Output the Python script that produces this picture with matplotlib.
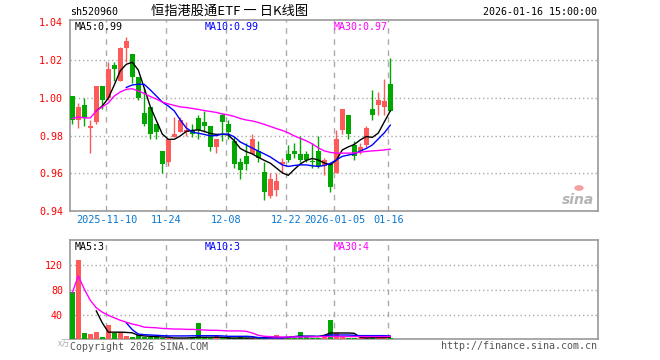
import numpy as np
import matplotlib
matplotlib.use("Agg")
import matplotlib.pyplot as plt

plt.rcParams['font.family'] = ['DejaVu Sans Mono', 'Noto Sans CJK SC']

# 日K数据 (2025-10-31 ~ 2026-01-16)
opens = [1.001, 0.988, 0.996, 0.984, 0.987, 1.006, 1.000, 1.017, 1.009, 1.026,
         1.023, 1.011, 0.992, 0.995, 0.986, 0.972, 0.966, 0.979, 0.982, 0.982,
         0.983, 0.989, 0.987, 0.985, 0.974, 0.991, 0.986, 0.977, 0.966, 0.969,
         0.970, 0.972, 0.961, 0.948, 0.951, 0.965, 0.970, 0.972, 0.970, 0.970,
         0.9665, 0.972, 0.964, 0.965, 0.960, 0.983, 0.991, 0.975, 0.972, 0.975,
         0.994, 0.996, 0.995, 1.007]
closes = [0.988, 0.995, 0.989, 0.985, 1.006, 0.999, 1.015, 1.015, 1.026, 1.030,
          1.011, 1.000, 0.986, 0.981, 0.982, 0.965, 0.978, 0.981, 0.988, 0.983,
          0.981, 0.983, 0.985, 0.974, 0.978, 0.987, 0.982, 0.965, 0.962, 0.965,
          0.978, 0.968, 0.950, 0.957, 0.956, 0.966, 0.967, 0.970, 0.967, 0.967,
          0.966, 0.964, 0.967, 0.953, 0.978, 0.994, 0.981, 0.969, 0.974, 0.984,
          0.991, 0.999, 0.998, 0.993]
highs = [1.001, 0.997, 1.000, 0.988, 1.006, 1.006, 1.019, 1.019, 1.027, 1.032,
         1.023, 1.011, 1.005, 0.995, 0.986, 0.972, 0.978, 0.990, 0.990, 0.987,
         0.986, 0.991, 0.993, 0.985, 0.978, 0.992, 0.988, 0.979, 0.968, 0.976,
         0.981, 0.977, 0.966, 0.960, 0.960, 0.968, 0.975, 0.976, 0.980, 0.972,
         0.976, 0.980, 0.968, 0.965, 0.983, 0.994, 0.991, 0.977, 0.976, 0.985,
         1.004, 1.003, 1.010, 1.021]
lows = [0.986, 0.984, 0.985, 0.971, 0.986, 0.994, 0.999, 1.009, 1.009, 1.019,
        1.008, 0.999, 0.985, 0.978, 0.978, 0.960, 0.964, 0.979, 0.982, 0.980,
        0.979, 0.978, 0.982, 0.972, 0.971, 0.977, 0.978, 0.963, 0.957, 0.962,
        0.970, 0.966, 0.946, 0.947, 0.948, 0.960, 0.966, 0.968, 0.966, 0.966,
        0.963, 0.963, 0.959, 0.950, 0.960, 0.981, 0.978, 0.967, 0.970, 0.974,
        0.988, 0.991, 0.991, 0.993]

nan = np.nan
ma5 = [nan, nan, nan, nan, 0.993, 0.9956, 0.9997, 1.0067, 1.0142, 1.0176,
       1.0187, 1.0146, 1.005, 0.9953, 0.988, 0.9808, 0.978, 0.978, 0.9798, 0.9822,
       0.9827, 0.983, 0.9822, 0.9811, 0.9806, 0.9807, 0.9803, 0.9772, 0.9732, 0.9715,
       0.9703, 0.9685, 0.9669, 0.9654, 0.9629, 0.9603, 0.959, 0.9621, 0.965, 0.9669,
       0.9679, 0.9671, 0.9655, 0.9645, 0.967, 0.9724, 0.974, 0.9753, 0.9777, 0.9795,
       0.979, 0.9813, 0.9872, 0.993]
ma10 = [nan] * 9 + [
       1.0054, 1.0067, 1.0071, 1.007, 1.0041, 1.0009, 0.9977, 0.9956, 0.993, 0.9882,
       0.984, 0.9819, 0.9812, 0.9806, 0.9798, 0.980, 0.9807, 0.9808, 0.9793, 0.9766,
       0.975, 0.9734, 0.9718, 0.9703, 0.9687, 0.9666, 0.9645, 0.9637, 0.9642, 0.9645,
       0.9645, 0.964, 0.9637, 0.9642, 0.9653, 0.9671, 0.969, 0.9697, 0.9703, 0.9718,
       0.9732, 0.975, 0.9782, 0.9814, 0.9855]
ma30 = [0.989, 0.9898, 0.9893, 0.9893, 0.993, 0.9951, 0.9972, 1.0009, 1.003, 1.0044,
        1.0047, 1.0035, 1.0022, 1.0006, 0.9993, 0.9977, 0.9967, 0.9959, 0.9951, 0.9948,
        0.9943, 0.9938, 0.9932, 0.9927, 0.9922, 0.9914, 0.9909, 0.9901, 0.989, 0.9882,
        0.9877, 0.9869, 0.9859, 0.9848, 0.9837, 0.9827, 0.9814, 0.9798, 0.9785, 0.9772,
        0.9756, 0.9735, 0.9719, 0.9711, 0.9707, 0.9707, 0.9707, 0.9708, 0.9712, 0.9716,
        0.9719, 0.9721, 0.9724, 0.9728]

# 成交量 (万)
volume = [77, 129, 12, 10.6, 14, 5.3, 25, 12, 14, 7.4,
          5.3, 8, 5.3, 5.3, 5.3, 3.7, 3, 2.5, 2.5, 2.5,
          3.7, 28, 5.3, 3, 6.4, 5.3, 4.5, 4.3, 4.8, 4.3,
          3, 4.8, 5, 3, 8.5, 4.8, 4.3, 4.3, 13, 4.8,
          4.3, 4.3, 4.8, 32.5, 11, 6.4, 4.3, 4.3, 3.7, 6.4,
          4.8, 4.8, 4.8, 3]
vol_ma5 = [nan, nan, nan, nan, 47, 28, 13, 13, 13, 12.6,
           12, 8, 7, 6.4, 5.8, 5.3, 5, 3.7, 3.7, 3.7,
           4.3, 5, 5, 5, 5, 4.8, 3.7, 3.7, 3.7, 3.7,
           3.7, 4.3, 4.3, 4.8, 4.8, 4.3, 4.8, 5.9, 6.4, 6.4,
           6.4, 5.9, 8, 11.7, 11.7, 11.7, 11.7, 11.2, 4.5, 3.7,
           4.3, 4.3, 4.3, 4.8]
vol_ma10 = [nan] * 9 + [
            28, 17, 10, 9, 8.5, 8, 7.5, 7, 7, 7,
            7, 7.2, 7.4, 7.4, 7.4, 7.4, 7, 6.4, 6.4, 6.4,
            6.4, 5.9, 4.3, 3.7, 3.7, 3.7, 3.7, 4.8, 5.9, 6.4,
            6.4, 6.4, 6.4, 6.9, 8.5, 8.5, 8.5, 8.5, 8, 7.5,
            7.5, 7.5, 7.5, 7.5, 6.9]
vol_ma30 = [76, 103, 82, 64, 52, 45, 40, 36, 32, 29,
            26, 24, 21, 20.5, 20, 19, 18.5, 18, 18, 17.5,
            17.5, 17, 16.5, 16, 16, 15.5, 15, 15, 15, 14.4,
            11.7, 8, 6.4, 6, 5.3, 5.3, 5.3, 5.3, 5.3, 5.3,
            5.3, 6, 6, 6, 6, 6, 6, 6, 6, 6,
            6, 6, 6, 6]

date_idx = [6, 16, 26, 36, 44, 53]
date_labels = ['2025-11-10', '11-24', '12-08', '12-22', '2026-01-05', '01-16']
price_ticks = [0.94, 0.96, 0.98, 1.00, 1.02, 1.04]
vol_ticks = [40, 80, 120]

RED = '#ff5a5a'
GREEN = '#00a800'
FRAME = '#999999'
GRID = '#aaaaaa'

W, H = 660, 360
fig = plt.figure(figsize=(6.6, 3.6), dpi=100)
ax = fig.add_axes([70 / W, 1 - 211.3 / H, 527.7 / W, 191.3 / H])
axv = fig.add_axes([70 / W, 1 - 339.3 / H, 527.7 / W, 99 / H])

x = np.arange(len(opens))
o = np.array(opens)
c = np.array(closes)
colors = [RED if cc >= oo else GREEN for oo, cc in zip(o, c)]

# 蜡烛
ax.vlines(x, lows, highs, colors=colors, linewidth=1, zorder=3)
body_bottom = np.minimum(o, c)
body_h = np.maximum(np.abs(c - o), 0.0006)
ax.bar(x, body_h, bottom=body_bottom, width=0.8, color=colors, linewidth=0, zorder=4)

ax.plot(x, ma5, color='black', linewidth=1, zorder=5)
ax.plot(x, ma10, color='#0000ff', linewidth=1, zorder=5)
ax.plot(x, ma30, color='#ff00ff', linewidth=1, zorder=5)

# 成交量
axv.bar(x, volume, width=0.8, color=colors, linewidth=0, zorder=3)
axv.plot(x, vol_ma5, color='black', linewidth=1, zorder=5)
axv.plot(x, vol_ma10, color='#0000ff', linewidth=1, zorder=5)
axv.plot(x, vol_ma30, color='#ff00ff', linewidth=1, zorder=5)

for a in (ax, axv):
    a.set_xlim(-0.38, 87.57)
    for s in a.spines.values():
        s.set_color(FRAME)
        s.set_linewidth(1.2)
    for d in date_idx:
        a.axvline(d - 0.3, color=GRID, linestyle=(0, (4, 4)), linewidth=1, zorder=1)
    a.tick_params(length=0, labelsize=7)

ax.set_ylim(0.940, 1.041)
for p in price_ticks[1:-1]:
    ax.axhline(p, color=GRID, linestyle=(0, (1, 2)), linewidth=1, zorder=1)
ax.set_yticks(price_ticks)
ax.set_yticklabels(['%.2f' % p for p in price_ticks], color='#ff0000', fontsize=7.2)
ax.tick_params(axis='y', pad=5)
ax.set_xticks([d - 0.3 for d in date_idx])
ax.set_xticklabels(date_labels, color='#0a78d2', fontsize=7.4)
ax.tick_params(axis='x', pad=3)

axv.set_ylim(1.6, 160)
for v in vol_ticks:
    axv.axhline(v, color=GRID, linestyle=(0, (1, 2)), linewidth=1, zorder=1)
axv.set_yticks(vol_ticks)
axv.set_yticklabels([str(v) for v in vol_ticks], color='#ff0000', fontsize=7.2)
axv.tick_params(axis='y', pad=5)
axv.set_xticks([])


def px_text(px, py, s, **kw):
    fig.text(px / W, 1 - py / H, s, va='center', **kw)


px_text(70, 12, 'sh520960', fontsize=7.2, color='black')
px_text(230, 11, '恒指港股通ETF 一 日K线图', fontsize=9.5, color='black', ha='center',
        family=['Noto Sans CJK SC', 'DejaVu Sans'])
px_text(597, 12, '2026-01-16 15:00:00', fontsize=7.2, color='black', ha='right')

px_text(75, 27, 'MA5:0.99', fontsize=7.2, color='black')
px_text(205, 27, 'MA10:0.99', fontsize=7.2, color='#0000ff')
px_text(334, 27, 'MA30:0.97', fontsize=7.2, color='#ff00ff')

px_text(75, 247, 'MA5:3', fontsize=7.2, color='black')
px_text(205, 247, 'MA10:3', fontsize=7.2, color='#0000ff')
px_text(334, 247, 'MA30:4', fontsize=7.2, color='#ff00ff')

px_text(58, 343, 'x万', fontsize=6, color='#aaaaaa', family=['Noto Sans CJK SC', 'DejaVu Sans'])
px_text(70, 347, 'Copyright 2026 SINA.COM', fontsize=7.2, color='#555555')
px_text(597, 346, 'http://finance.sina.com.cn', fontsize=7.2, color='#555555', ha='right')

# sina 水印
px_text(578, 200, 'sina', fontsize=10, color='#b4b4b4', ha='center', style='italic',
        weight='bold', family='DejaVu Sans')
fig.add_artist(plt.Circle((579 / W, 1 - 188 / H), 0.006, transform=fig.transFigure,
                          color='#f2a0a0', zorder=10))

fig.savefig('out.png', dpi=100)
